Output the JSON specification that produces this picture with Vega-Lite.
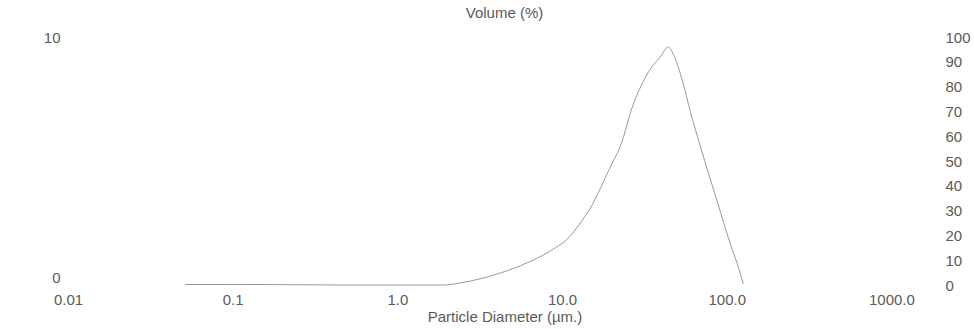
{
  "$schema": "https://vega.github.io/schema/vega-lite/v6.json",
  "width": 873,
  "height": 248,
  "autosize": "none",
  "padding": {"left": 68, "top": 37, "right": 33, "bottom": 44},
  "background": "white",
  "config": {
    "view": {"stroke": null},
    "font": "Liberation Sans",
    "axis": {
      "labelFont": "Liberation Sans",
      "titleFont": "Liberation Sans",
      "labelColor": "#5a5a5a",
      "titleColor": "#5a5a5a",
      "labelFontSize": 15,
      "titleFontSize": 15,
      "titleFontWeight": "normal",
      "domain": false,
      "ticks": false,
      "grid": false,
      "labelFlush": false,
      "labelOverlap": false,
      "labelBound": false
    }
  },
  "title": {
    "text": "Volume (%)",
    "font": "Liberation Sans",
    "fontSize": 15,
    "fontWeight": "normal",
    "color": "#5a5a5a",
    "anchor": "middle",
    "baseline": "middle",
    "offset": 0,
    "dy": -2
  },
  "data": {
    "values": [
      {"diameter": 0.0514, "volume": 0.02},
      {"diameter": 0.0837, "volume": 0.02},
      {"diameter": 0.1466, "volume": 0.02},
      {"diameter": 0.256, "volume": 0.01},
      {"diameter": 0.45, "volume": 0.0},
      {"diameter": 0.785, "volume": 0.0},
      {"diameter": 1.376, "volume": 0.0},
      {"diameter": 1.9, "volume": 0.0},
      {"diameter": 2.41, "volume": 0.08},
      {"diameter": 3.32, "volume": 0.28},
      {"diameter": 4.21, "volume": 0.48},
      {"diameter": 5.35, "volume": 0.73},
      {"diameter": 7.69, "volume": 1.21},
      {"diameter": 9.1, "volume": 1.5},
      {"diameter": 10.76, "volume": 1.85},
      {"diameter": 12.9, "volume": 2.5},
      {"diameter": 15.3, "volume": 3.25},
      {"diameter": 17.1, "volume": 3.9},
      {"diameter": 19.6, "volume": 4.75},
      {"diameter": 22.6, "volume": 5.6},
      {"diameter": 27.1, "volume": 7.3},
      {"diameter": 31.1, "volume": 8.2},
      {"diameter": 34.3, "volume": 8.7},
      {"diameter": 39.5, "volume": 9.2},
      {"diameter": 44.2, "volume": 9.6},
      {"diameter": 47.4, "volume": 9.3},
      {"diameter": 50.1, "volume": 8.9},
      {"diameter": 54.5, "volume": 8.1},
      {"diameter": 60.1, "volume": 7.0},
      {"diameter": 69.1, "volume": 5.6},
      {"diameter": 87.7, "volume": 3.35},
      {"diameter": 105.2, "volume": 1.65},
      {"diameter": 115.9, "volume": 0.85},
      {"diameter": 126.0, "volume": 0.05}
    ]
  },
  "layer": [
    {
      "mark": {"type": "line", "color": "#999999", "strokeWidth": 1, "interpolate": "monotone"},
      "encoding": {
        "x": {
          "field": "diameter",
          "type": "quantitative",
          "scale": {"type": "log", "domain": [0.01, 2000]},
          "axis": {
            "values": [0.01, 0.1, 1, 10, 100, 1000],
            "labelExpr": "datum.value < 0.05 ? '0.01' : datum.value < 0.5 ? '0.1' : format(datum.value, '.1f')",
            "title": "Particle Diameter (µm.)",
            "labelPadding": 7,
            "titlePadding": 2
          }
        },
        "y": {
          "field": "volume",
          "type": "quantitative",
          "scale": {"domain": [0, 10]},
          "axis": {
            "values": [0, 10],
            "title": null,
            "labelPadding": 8,
            "labelBaseline": {"condition": {"test": "datum.value == 0", "value": "bottom"}, "value": "middle"}
          }
        }
      }
    },
    {
      "mark": {"type": "rule", "opacity": 0},
      "encoding": {
        "y": {
          "datum": 0,
          "type": "quantitative",
          "scale": {"domain": [0, 100]},
          "axis": {
            "orient": "right",
            "values": [0, 10, 20, 30, 40, 50, 60, 70, 80, 90, 100],
            "title": null,
            "labelPadding": 4,
            "labelAlign": "left"
          }
        }
      }
    }
  ],
  "resolve": {"scale": {"y": "independent"}}
}
